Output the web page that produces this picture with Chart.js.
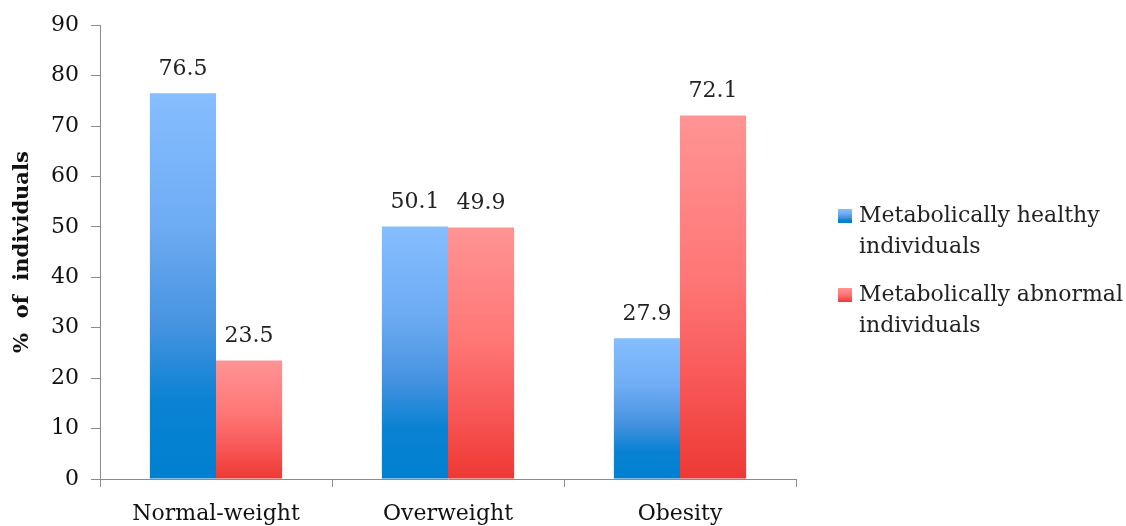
<!DOCTYPE html>
<html>
<head>
<meta charset="utf-8">
<script src="https://cdn.jsdelivr.net/npm/chart.js@4"></script>
<style>
  html, body { margin: 0; padding: 0; background: #fff; }
  #wrap { width: 1126px; height: 526px; }
</style>
</head>
<body>
<div id="wrap"><canvas id="bmiChart"></canvas></div>
<script>
const categories = ['Normal-weight', 'Overweight', 'Obesity'];
const seriesNames = [['Metabolically healthy', 'individuals'], ['Metabolically abnormal', 'individuals']];
const healthy = [76.5, 50.1, 27.9];
const abnormal = [23.5, 49.9, 72.1];
const yTicks = [0, 10, 20, 30, 40, 50, 60, 70, 80, 90];

const serif = 'DejaVu Serif';
const blueStops = [[0, '#86BEFF'], [0.35, '#6DABF3'], [0.6, '#4793E0'], [0.8, '#0A82D3'], [1, '#0080D0']];
const redStops = [[0, '#FF9494'], [0.45, '#FF7676'], [0.75, '#F75555'], [1, '#EE3934']];

const makeGradient = (c, stops, top, bottom) => {
    const g = c.createLinearGradient(0, top, 0, bottom);
    stops.forEach(s => g.addColorStop(s[0], s[1]));
    return g;
};

const barFill = stops => context => {
    const chart = context.chart;
    if (!chart.chartArea || context.raw === undefined) return stops[0][1];
    const y = chart.scales.y;
    return makeGradient(chart.ctx, stops, y.getPixelForValue(context.raw), y.getPixelForValue(0));
};

// value labels above bars
const valueLabels = {
    id: 'valueLabels',
    afterDatasetsDraw(chart) {
        const c = chart.ctx;
        c.save();
        c.font = '22px "' + serif + '"';
        c.fillStyle = '#222';
        c.textAlign = 'center';
        c.textBaseline = 'middle';
        chart.data.datasets.forEach((ds, i) => {
            chart.getDatasetMeta(i).data.forEach((bar, j) => {
                c.fillText(ds.data[j].toFixed(1), bar.x, bar.y - 24);
            });
        });
        c.restore();
    }
};

// legend on the right with two-line labels
const sideLegend = {
    id: 'sideLegend',
    afterDraw(chart) {
        const c = chart.ctx;
        const x = chart.chartArea.right + 42;
        let y = 216;
        c.save();
        c.font = '22px "' + serif + '"';
        c.textBaseline = 'middle';
        chart.data.datasets.forEach((ds, i) => {
            const stops = i === 0 ? blueStops : redStops;
            c.fillStyle = makeGradient(c, stops, y - 7, y + 7);
            c.fillRect(x, y - 7, 14, 14);
            c.fillStyle = '#222';
            ds.label.forEach((line, k) => c.fillText(line, x + 21, y + k * 31));
            y += 79;
        });
        c.restore();
    }
};

new Chart(document.getElementById('bmiChart').getContext('2d'), {
    type: 'bar',
    data: {
        labels: categories,
        datasets: [
            { label: seriesNames[0], data: healthy, backgroundColor: barFill(blueStops) },
            { label: seriesNames[1], data: abnormal, backgroundColor: barFill(redStops) }
        ]
    },
    options: {
        responsive: true,
        maintainAspectRatio: false,
        animation: false,
        categoryPercentage: 0.57,
        barPercentage: 1.0,
        layout: { padding: { top: 23, right: 330, left: 0, bottom: 0 } },
        plugins: {
            legend: { display: false },
            tooltip: { enabled: false }
        },
        scales: {
            x: {
                afterFit: scale => { scale.height = 47; },
                ticks: {
                    color: '#111',
                    font: { family: serif, size: 22 },
                    padding: 14
                },
                grid: {
                    drawOnChartArea: false,
                    drawTicks: true,
                    tickLength: 8,
                    color: '#8c8c8c'
                },
                border: { color: '#8c8c8c', width: 1 }
            },
            y: {
                min: 0,
                max: 90,
                afterFit: scale => { scale.width = 100; },
                afterBuildTicks: scale => { scale.ticks = yTicks.map(v => ({ value: v })); },
                ticks: {
                    color: '#111',
                    font: { family: serif, size: 22 },
                    padding: 12
                },
                grid: {
                    drawOnChartArea: false,
                    drawTicks: true,
                    tickLength: 9,
                    color: '#8c8c8c'
                },
                border: { color: '#8c8c8c', width: 1 },
                title: {
                    display: true,
                    text: '%  of  individuals',
                    color: '#111',
                    font: { family: serif, size: 21, weight: 'bold' },
                    padding: { top: 10, bottom: 0 }
                }
            }
        }
    },
    plugins: [valueLabels, sideLegend]
});
</script>
</body>
</html>
